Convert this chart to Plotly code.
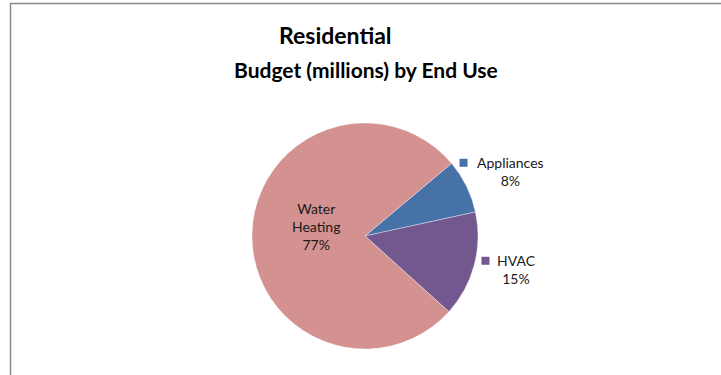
import math
import plotly.graph_objects as go

W, H = 721, 375

# ---- data ----
categories = ["Appliances", "HVAC", "Water Heating"]
values = [7.7, 15.1, 77.2]
label_texts = ["Appliances", "HVAC", "Water<br>Heating"]
title_lines = ["Residential", "Budget (millions) by End Use"]

# ---- style ----
colors = ["#4672A8", "#72588F", "#D3918F"]
FONT = "Lato"
cx, cy, R = 365, 236, 113           # pie centre / radius in pixels
rotation = 50
label_radius = [1.40, 1.30, 0.44]   # label distance as multiple of R
label_nudge = [(3, 5.5), (10, -4), (1, -9)]
label_outside = [True, True, False]
label_width = [67, 37, 0]           # approx text width for legend-key placement
title_pos = [(335, 35, 23), (366, 70, 21)]

fig = go.Figure(go.Pie(
    labels=categories,
    values=values,
    sort=False,
    direction="clockwise",
    rotation=rotation,
    marker=dict(colors=colors, line=dict(color="rgba(255,255,255,0.6)", width=0.6)),
    textinfo="none",
    hoverinfo="label+percent",
    showlegend=False,
    domain=dict(x=[(cx - R) / W, (cx + R) / W],
                y=[(H - cy - R) / H, (H - cy + R) / H]),
))

def px_to_paper(x, y):
    return x / W, 1 - y / H

annotations = []
shapes = []
total = sum(values)
cum = 0.0
for i, (lab, v) in enumerate(zip(label_texts, values)):
    frac = v / total
    mid = math.radians(rotation + (cum + frac / 2) * 360)
    cum += frac
    r = label_radius[i] * R
    lx = cx + r * math.sin(mid) + label_nudge[i][0]
    ly = cy - r * math.cos(mid) + label_nudge[i][1]
    pct = f"{round(frac * 100):d}%"
    px_, py_ = px_to_paper(lx, ly)
    annotations.append(dict(
        x=px_, y=py_, xref="paper", yref="paper",
        text=f"{lab}<br>{pct}", showarrow=False,
        xanchor="center", yanchor="middle",
        font=dict(family=FONT, size=14, color="#1a1a1a"),
    ))
    if label_outside[i]:
        top_line_y = ly - 9
        sx1 = lx - label_width[i] / 2 - 9
        sx0 = sx1 - 8
        x0, y0 = px_to_paper(sx0, top_line_y - 4)
        x1, y1 = px_to_paper(sx1, top_line_y + 4)
        shapes.append(dict(type="rect", xref="paper", yref="paper",
                           x0=x0, x1=x1, y0=y1, y1=y0,
                           fillcolor=colors[i], line=dict(width=0)))

# title lines
for t, (tx_px, ty_px, fs) in zip(title_lines, title_pos):
    tx, ty = px_to_paper(tx_px, ty_px)
    annotations.append(dict(
        x=tx, y=ty, xref="paper", yref="paper", text=f"<b>{t}</b>",
        showarrow=False, xanchor="center", yanchor="middle",
        font=dict(family=FONT, size=fs, color="#000000"),
    ))

# chart-area border (extends past right/bottom of view)
bx0, by0 = px_to_paper(10.5, 3.5)
shapes.append(dict(type="rect", xref="paper", yref="paper",
                   x0=bx0, y0=-0.05, x1=1.05, y1=by0,
                   line=dict(color="#8a8a8a", width=1.5), fillcolor="rgba(0,0,0,0)"))

fig.update_layout(
    width=W, height=H,
    margin=dict(l=0, r=0, t=0, b=0),
    paper_bgcolor="white", plot_bgcolor="white",
    annotations=annotations, shapes=shapes,
)

fig.write_html("out.html")
